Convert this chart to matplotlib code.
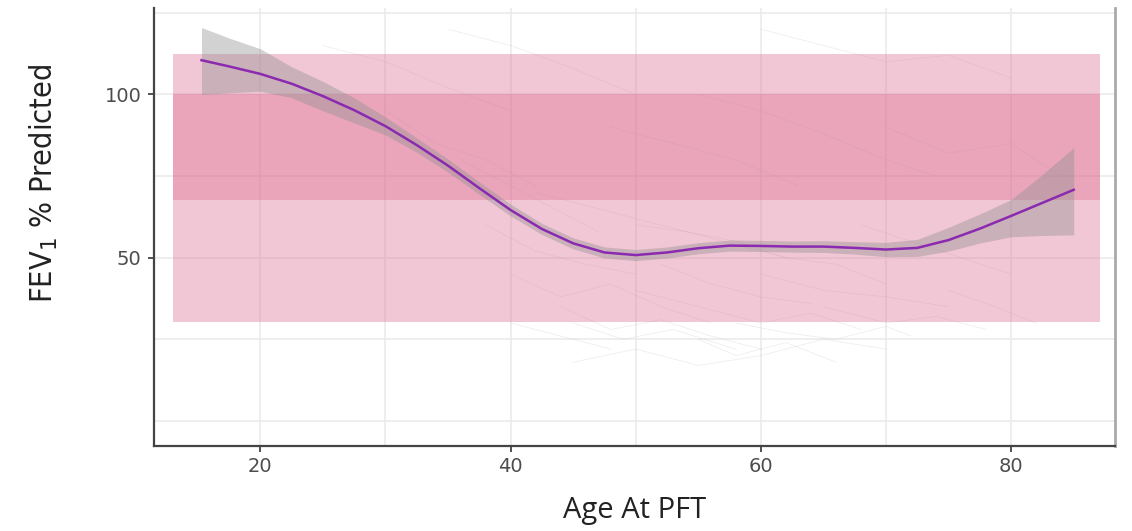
import matplotlib
matplotlib.use("Agg")
import matplotlib.pyplot as plt
from matplotlib.ticker import FixedLocator

# ---- data ----
age = [15.3, 17.5, 20, 22.5, 25, 27.5, 30, 32.5, 35, 37.5, 40, 42.5, 45, 47.5,
       50, 52.5, 55, 57.5, 60, 62.5, 65, 67.5, 70, 72.5, 75, 77.5, 80, 82.5, 85]
fit = [110.5, 108.6, 106.3, 103.3, 99.5, 95.2, 90.3, 84.5, 78.2, 71.3, 64.6, 58.8,
       54.4, 51.6, 50.8, 51.6, 52.9, 53.7, 53.6, 53.4, 53.4, 53.0, 52.5, 53.0,
       55.4, 58.9, 62.8, 66.8, 70.8]
lower = [100.0, 100.5, 101.0, 99.0, 95.0, 91.3, 87.6, 82.3, 76.2, 69.4, 62.8, 57.1,
         52.7, 49.9, 49.1, 49.9, 51.2, 52.0, 51.9, 51.7, 51.6, 51.1, 50.3, 50.4,
         52.0, 54.5, 56.4, 56.8, 57.0]
upper = [120.5, 117.3, 114.0, 108.5, 104.0, 99.0, 93.1, 86.7, 80.2, 73.2, 66.4, 60.5,
         56.1, 53.3, 52.5, 53.3, 54.6, 55.4, 55.3, 55.1, 55.2, 54.9, 54.7, 55.6,
         59.3, 63.4, 67.8, 75.5, 83.7]

# individual trajectories (faint background lines)
traj_ages = [
    [40, 44, 48, 52, 56], [45, 49, 53, 58], [50, 55, 60, 64, 68], [55, 58, 62, 66],
    [38, 42, 46, 50], [60, 65, 70, 75], [65, 70, 74, 78], [42, 47, 52, 57, 62],
    [30, 34, 38, 42], [25, 30, 35, 40], [48, 53, 58, 63], [55, 60, 65, 70, 74],
    [70, 75, 80, 84], [35, 40, 45, 50], [60, 65, 70, 75, 80], [45, 50, 55, 60, 65, 70],
    [68, 72, 76, 80], [50, 54, 58, 62, 66, 70], [40, 44, 48], [75, 78, 82],
    [44, 48, 52, 56, 60], [52, 56, 60, 64], [58, 62, 66, 70, 72], [36, 40, 43, 47],
]
traj_vals = [
    [45, 38, 42, 35, 30], [30, 25, 28, 22], [40, 35, 30, 33, 28], [25, 20, 24, 18],
    [60, 52, 48, 45], [45, 40, 38, 35], [35, 30, 32, 28], [70, 65, 60, 55, 50],
    [95, 85, 80, 72], [115, 110, 102, 95], [90, 85, 80, 72], [100, 95, 88, 80, 75],
    [90, 82, 85, 75], [120, 115, 108, 100], [120, 115, 110, 112, 105], [18, 22, 17, 20, 25, 22],
    [60, 55, 50, 45], [60, 58, 55, 50, 48, 42], [30, 26, 22], [40, 36, 30],
    [35, 28, 31, 26, 22], [48, 42, 38, 36], [30, 27, 25, 29, 26], [80, 72, 66, 58],
]

# reference bands
band_outer = (30.2, 112.3)
band_inner = (67.6, 100.0)
band_x = (13.0, 87.1)

x_ticks = [20, 40, 60, 80]
x_minor = [30, 50, 70]
y_ticks = [50, 100]
y_minor = [0, 25, 75, 125]

# ---- figure ----
fig = plt.figure(figsize=(11.32, 5.31), dpi=100)
ax = fig.add_axes([0.136, 0.160, 0.849, 0.825])
ax.set_xlim(11.5, 88.3)
ax.set_ylim(-7.7, 126.5)

grid_c = "#ebebeb"
for v in x_ticks + x_minor:
    ax.axvline(v, color=grid_c, lw=1.2, zorder=0)
for v in y_ticks + y_minor:
    ax.axhline(v, color=grid_c, lw=1.2, zorder=0)

for a, v in zip(traj_ages, traj_vals):
    ax.plot(a, v, color="#c8c8c8", lw=0.6, alpha=0.3, zorder=1)

pink = "#dd6e93"
ax.fill_between(band_x, band_outer[0], band_outer[1], color=pink, alpha=0.38, lw=0, zorder=2)
ax.fill_between(band_x, band_inner[0], band_inner[1], color=pink, alpha=0.38, lw=0, zorder=2)

ax.fill_between(age, lower, upper, color="#8f8f8f", alpha=0.4, lw=0, zorder=3)
ax.plot(age, fit, color="#8a2ab0", lw=1.8, zorder=4, solid_joinstyle="round")

ax.xaxis.set_major_locator(FixedLocator(x_ticks))
ax.yaxis.set_major_locator(FixedLocator(y_ticks))
ax.tick_params(axis="both", length=4, width=1.2, color="#333333",
               labelcolor="#4d4d4d", labelsize=14)
ax.tick_params(axis="x", pad=4)
ax.tick_params(axis="y", pad=5)

for s in ["left", "bottom"]:
    ax.spines[s].set_color("#444444")
    ax.spines[s].set_linewidth(1.6)
ax.spines["right"].set_color("#aaaaaa")
ax.spines["right"].set_linewidth(2)
ax.spines["top"].set_visible(False)

ax.set_xlabel("Age At PFT", fontsize=21, family="Open Sans", color="#222222", labelpad=14)
ax.set_ylabel(r"FEV$_1$ % Predicted", fontsize=22, family="DejaVu Sans", fontstretch="condensed",
              color="#222222", labelpad=20)
ax.yaxis.set_label_coords(-0.098, 0.60)

fig.savefig("out.png", dpi=100)
